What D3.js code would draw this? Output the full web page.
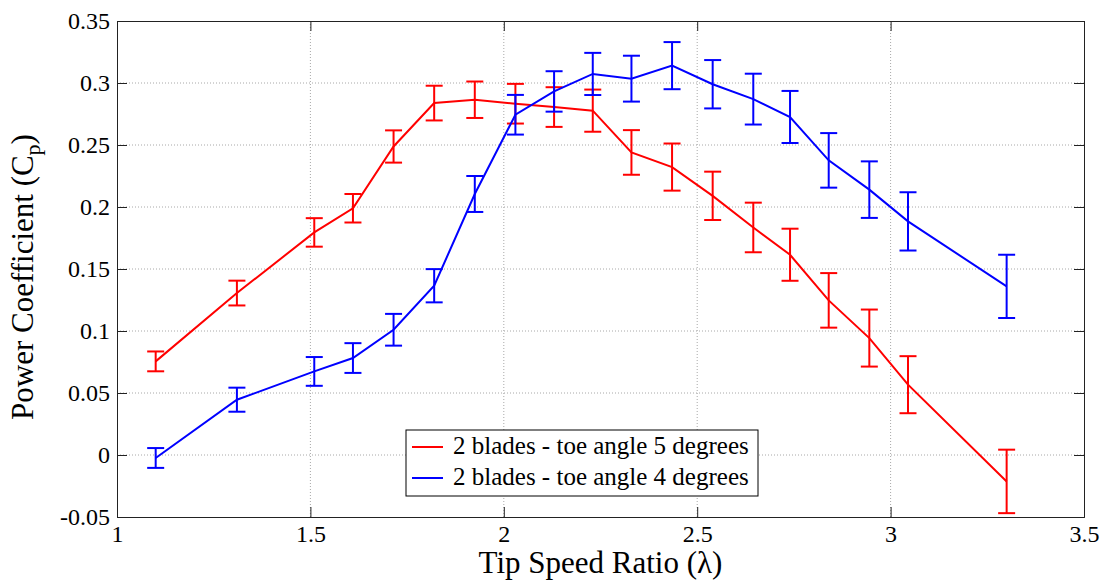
<!DOCTYPE html>
<html>
<head>
<meta charset="utf-8">
<script src="https://cdn.jsdelivr.net/npm/d3@7"></script>
<style>
  body { margin: 0; background: #fff; }
  #graf { width: 1102px; height: 582px; }
  text { font-family: "Liberation Serif", "DejaVu Serif", serif; fill: #000; }
</style>
</head>
<body>
<div id="graf"></div>
<script>
// I. Datos
tsr = [1.10, 1.31, 1.51, 1.61, 1.715, 1.82, 1.925, 2.03, 2.13, 2.23, 2.33, 2.435, 2.54, 2.645, 2.74, 2.84, 2.945, 3.045, 3.30]

cp5  = [0.0755, 0.1306, 0.1795, 0.199, 0.2488, 0.2838, 0.2865, 0.2833, 0.2806, 0.2777, 0.244, 0.2322, 0.209, 0.1835, 0.1615, 0.1247, 0.0943, 0.0567, -0.0213]
err5 = [0.008, 0.010, 0.0115, 0.0115, 0.013, 0.014, 0.0147, 0.016, 0.016, 0.017, 0.018, 0.019, 0.0195, 0.020, 0.021, 0.022, 0.023, 0.023, 0.0256]

cp4  = [-0.0024, 0.0446, 0.0674, 0.0782, 0.101, 0.1365, 0.2105, 0.2744, 0.2932, 0.3073, 0.3035, 0.314, 0.299, 0.287, 0.2726, 0.2376, 0.214, 0.1884, 0.136]
err4 = [0.008, 0.0097, 0.0116, 0.012, 0.0128, 0.0134, 0.0145, 0.016, 0.0163, 0.017, 0.0185, 0.019, 0.0195, 0.0205, 0.021, 0.022, 0.0228, 0.0235, 0.0255]

seriesNames = ['2 blades - toe angle 5 degrees', '2 blades - toe angle 4 degrees']
seriesColors = ['#ff0000', '#0000ff']

xTicks = [1, 1.5, 2, 2.5, 3, 3.5]
xTickLabels = ['1', '1.5', '2', '2.5', '3', '3.5']
yTicks = [-0.05, 0, 0.05, 0.1, 0.15, 0.2, 0.25, 0.3, 0.35]
yTickLabels = ['-0.05', '0', '0.05', '0.1', '0.15', '0.2', '0.25', '0.3', '0.35']

// II. Configuración
ancho_total = 1102
alto_total = 582
margins = { top: 21, left: 117, right: 18, bottom: 65 }
ancho = ancho_total - margins.left - margins.right
alto  = alto_total - margins.top - margins.bottom
fuente = '"Liberation Serif", "DejaVu Serif", serif'

svg = d3.select('#graf').append('svg')
        .attr('width', ancho_total)
        .attr('height', alto_total)
        .attr('font-family', fuente)

g = svg.append('g')
       .attr('transform', `translate(${ margins.left }, ${ margins.top })`)

x = d3.scaleLinear().domain([1, 3.5]).range([0, ancho])
y = d3.scaleLinear().domain([-0.05, 0.35]).range([alto, 0])

// III. Rejilla
g.selectAll('.gx').data(xTicks.slice(1, -1)).enter()
  .append('line')
  .attr('x1', d => x(d)).attr('x2', d => x(d))
  .attr('y1', 0).attr('y2', alto)
  .attr('stroke', '#a8a8a8').attr('stroke-dasharray', '1,2')

g.selectAll('.gy').data(yTicks.slice(1, -1)).enter()
  .append('line')
  .attr('x1', 0).attr('x2', ancho)
  .attr('y1', d => y(d)).attr('y2', d => y(d))
  .attr('stroke', '#a8a8a8').attr('stroke-dasharray', '1,2')

// IV. Ejes
fx = d => xTickLabels[xTicks.indexOf(d)]
fy = d => yTickLabels[yTicks.indexOf(d)]

ejeX = g.append('g').attr('transform', `translate(0, ${ alto })`)
        .call(d3.axisBottom(x).tickValues(xTicks).tickFormat(fx).tickSize(-10).tickPadding(8))
ejeY = g.append('g')
        .call(d3.axisLeft(y).tickValues(yTicks).tickFormat(fy).tickSize(-10).tickPadding(7))
g.append('g')
 .call(d3.axisTop(x).tickValues(xTicks).tickFormat('').tickSize(-10))
g.append('g').attr('transform', `translate(${ ancho }, 0)`)
 .call(d3.axisRight(y).tickValues(yTicks).tickFormat('').tickSize(-10))

g.selectAll('g').attr('font-family', fuente)
g.selectAll('.domain').attr('stroke', '#222')
g.selectAll('.tick line').attr('stroke', '#222')
g.selectAll('.tick text').attr('font-size', 24).attr('fill', '#000')

// V. Series con barras de error
function dibujar(valores, errores, color) {
  puntos = tsr.map((t, i) => ({ t: t, v: valores[i], e: errores[i] }))
  serie = g.append('g')

  linea = d3.line().x(d => x(d.t)).y(d => y(d.v))
  serie.append('path')
       .datum(puntos)
       .attr('d', linea)
       .attr('fill', 'none')
       .attr('stroke', color)
       .attr('stroke-width', 2)

  barras = serie.selectAll('g').data(puntos).enter().append('g')
  barras.append('line')
        .attr('x1', d => x(d.t)).attr('x2', d => x(d.t))
        .attr('y1', d => y(d.v - d.e)).attr('y2', d => y(d.v + d.e))
  barras.append('line')
        .attr('x1', d => x(d.t) - 8.5).attr('x2', d => x(d.t) + 8.5)
        .attr('y1', d => y(d.v + d.e)).attr('y2', d => y(d.v + d.e))
  barras.append('line')
        .attr('x1', d => x(d.t) - 8.5).attr('x2', d => x(d.t) + 8.5)
        .attr('y1', d => y(d.v - d.e)).attr('y2', d => y(d.v - d.e))
  barras.selectAll('line').attr('stroke', color).attr('stroke-width', 2)
}

dibujar(cp5, err5, seriesColors[0])
dibujar(cp4, err4, seriesColors[1])

// VI. Leyenda
leyenda = svg.append('g').attr('transform', 'translate(406, 430)')
leyenda.append('rect')
       .attr('width', 352).attr('height', 66)
       .attr('fill', '#fff').attr('stroke', '#000').attr('stroke-width', 1)
seriesNames.forEach((n, i) => {
  leyenda.append('line')
         .attr('x1', 6).attr('x2', 37)
         .attr('y1', 17 + i * 31).attr('y2', 17 + i * 31)
         .attr('stroke', seriesColors[i]).attr('stroke-width', 2)
  leyenda.append('text')
         .attr('x', 47).attr('y', 24 + i * 31)
         .attr('font-size', 25)
         .text(n)
})

// VII. Títulos de ejes
svg.append('text')
   .attr('x', margins.left + ancho / 2).attr('y', 573)
   .attr('text-anchor', 'middle')
   .attr('font-size', 31)
   .text('Tip Speed Ratio (λ)')

etY = svg.append('text')
   .attr('transform', 'translate(33, 277) rotate(-90)')
   .attr('text-anchor', 'middle')
   .attr('font-size', 31)
etY.append('tspan').text('Power Coefficient (C')
etY.append('tspan').attr('dy', 7).attr('font-size', 22).text('p')
etY.append('tspan').attr('dy', -7).text(')')
</script>
</body>
</html>
